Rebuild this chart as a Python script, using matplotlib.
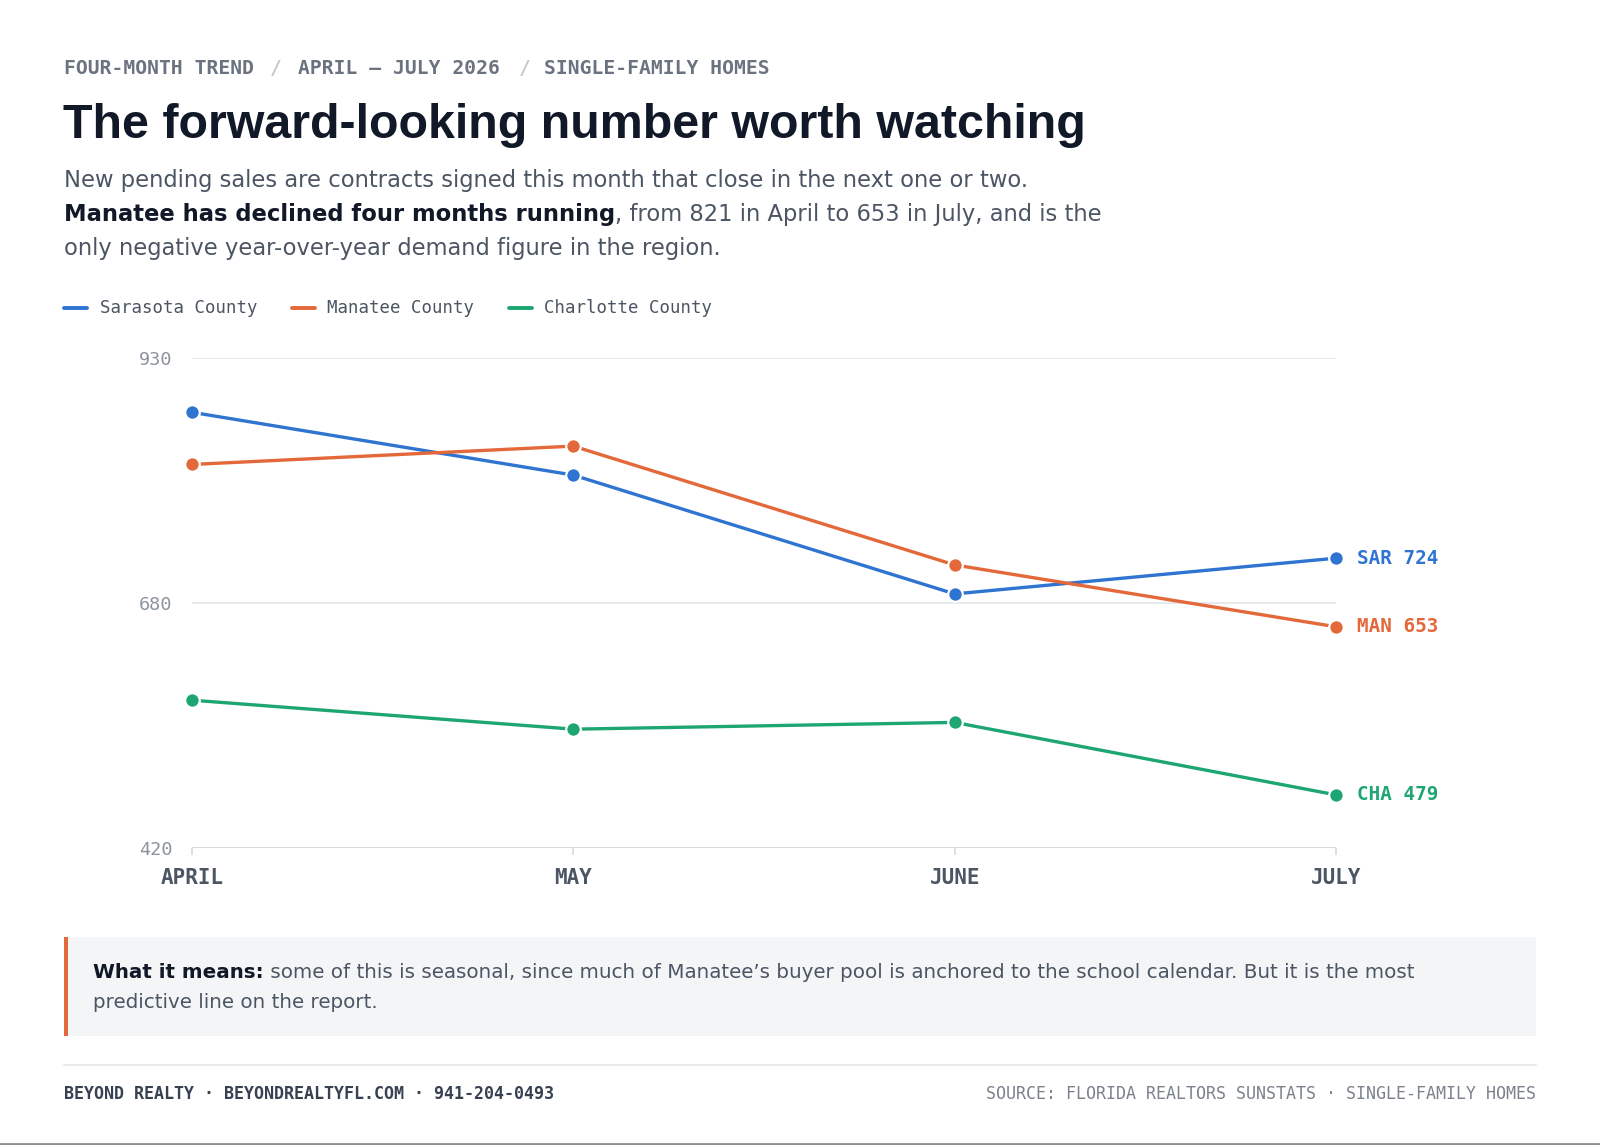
import matplotlib
matplotlib.use("Agg")
import matplotlib.pyplot as plt
from matplotlib.lines import Line2D
from matplotlib.patches import Rectangle

# Pending sales data, April - July 2026
months = ["APRIL", "MAY", "JUNE", "JULY"]
sarasota = [875, 810, 687, 724]
manatee = [821, 840, 717, 653]
charlotte = [577, 547, 554, 479]
y_range = (424, 931)
y_tick_labels = ["420", "680", "930"]

series = [
    ("Sarasota County", "SAR", sarasota, "#2f74d0"),
    ("Manatee County", "MAN", manatee, "#e3683a"),
    ("Charlotte County", "CHA", charlotte, "#1ea672"),
]

W, H = 1600, 1145
MONO = "DejaVu Sans Mono"
SANS = "DejaVu Sans"

fig = plt.figure(figsize=(W / 100, H / 100), dpi=100)
fig.patch.set_facecolor("white")


def fx(px):
    return px / W


def fy(py):
    return 1 - py / H


renderer = fig.canvas.get_renderer()


def runs(x, y, parts, size, family=SANS):
    # draw text pieces one after another on the same baseline
    for s, weight, color in parts:
        t = fig.text(fx(x), fy(y), s, fontsize=size, fontweight=weight, color=color,
                     family=family, va="baseline", ha="left")
        bb = t.get_window_extent(renderer)
        x += bb.width


# overline
over_parts = [(64, "FOUR-MONTH TREND", "#6b7280"), (270, "/", "#c3c8cf"),
              (298, "APRIL — JULY 2026", "#6b7280"), (519, "/", "#c3c8cf"),
              (544, "SINGLE-FAMILY HOMES", "#6b7280")]
for x, s, c in over_parts:
    fig.text(fx(x), fy(73.5), s, fontsize=14.1, fontweight="bold", color=c,
             family=MONO, va="baseline")

# title
fig.text(fx(63), fy(138.5), "The forward-looking number worth watching",
         fontsize=34.85, fontweight="bold", color="#111827",
         family="Liberation Sans", va="baseline")

# subtitle
sub_size = 16.3
runs(64, 186.7, [("New pending sales are contracts signed this month that close in the next one or two.",
                  "normal", "#4b5563")], sub_size)
runs(64, 221, [("Manatee has declined four months running", "bold", "#111827"),
               (", from 821 in April to 653 in July, and is the", "normal", "#4b5563")], sub_size)
runs(64, 255.2, [("only negative year-over-year demand figure in the region.", "normal", "#4b5563")], sub_size)

# legend
legend_pos = [(64, 100), (292, 327), (509, 544)]
for (lx, tx), (name, _, _, color) in zip(legend_pos, series):
    fig.add_artist(Line2D([fx(lx), fx(lx + 23)], [fy(307.5), fy(307.5)],
                          color=color, lw=2.8, solid_capstyle="round"))
    fig.text(fx(tx), fy(313), name, fontsize=12.5, color="#4b5563",
             family=MONO, va="baseline")

# chart
ax_l, ax_r, ax_t, ax_b = 192, 1336, 358.2, 848
ax = fig.add_axes([fx(ax_l), fy(ax_b), fx(ax_r) - fx(ax_l), (ax_b - ax_t) / H])
ax.set_facecolor("none")
x = list(range(len(months)))
y_ticks = [y_range[0], (y_range[0] + y_range[1]) / 2, y_range[1]]

for yv in y_ticks[1:]:
    ax.axhline(yv, color="#e1e4e8", lw=1.2, zorder=1)
ax.axhline(y_ticks[0], color="#d4d8de", lw=1.3, zorder=1)

for name, short, vals, color in series:
    ax.plot(x, vals, color=color, lw=2.4, zorder=3, solid_capstyle="round",
            marker="o", ms=10.5, mfc=color, mec="white", mew=1.6, clip_on=False)
    ax.annotate(f"{short} {vals[-1]}", (x[-1], vals[-1]), xytext=(15, 0),
                textcoords="offset points", va="center", ha="left",
                fontsize=13.9, fontweight="bold", color=color, family=MONO,
                annotation_clip=False)

ax.set_xlim(0, len(months) - 1)
ax.set_ylim(*y_range)
ax.set_xticks(x)
ax.set_xticklabels(months, family=MONO, fontweight="bold", fontsize=15, color="#4b5563")
ax.set_yticks(y_ticks)
ax.set_yticklabels(y_tick_labels, family=MONO, fontsize=13.3, color="#8b939e")
ax.tick_params(axis="x", length=5, width=1.1, color="#d4d8de", pad=9.5)
ax.tick_params(axis="y", length=0, pad=14)
for sp in ax.spines.values():
    sp.set_visible(False)

# callout box
fig.add_artist(Rectangle((fx(64), fy(1036)), fx(1536) - fx(64), (1036 - 936.7) / H,
                         facecolor="#f3f5f7", edgecolor="none", zorder=0))
fig.add_artist(Rectangle((fx(64), fy(1036)), 3.5 / W, (1036 - 936.7) / H,
                         facecolor="#e3683a", edgecolor="none", zorder=1))
box_size = 14.35
runs(93, 977.7, [("What it means:", "bold", "#111827"),
                 (" some of this is seasonal, since much of Manatee’s buyer pool is anchored to the school calendar. But it is the most",
                  "normal", "#4b5563")], box_size)
runs(93, 1008.5, [("predictive line on the report.", "normal", "#4b5563")], box_size)

# footer
fig.add_artist(Line2D([fx(64), fx(1536)], [fy(1064.5), fy(1064.5)], color="#e3e6ea", lw=1.2))
fig.text(fx(64), fy(1099), "BEYOND REALTY · BEYONDREALTYFL.COM · 941-204-0493",
         fontsize=12, fontweight="bold", color="#374151", family=MONO, va="baseline")
fig.text(fx(1536), fy(1099), "SOURCE: FLORIDA REALTORS SUNSTATS · SINGLE-FAMILY HOMES",
         fontsize=12, color="#7b828c", family=MONO, va="baseline", ha="right")
fig.add_artist(Line2D([0, 1], [fy(1143.5), fy(1143.5)], color="#8f8f8f", lw=2))

fig.savefig("out.png", dpi=100, facecolor="white")
